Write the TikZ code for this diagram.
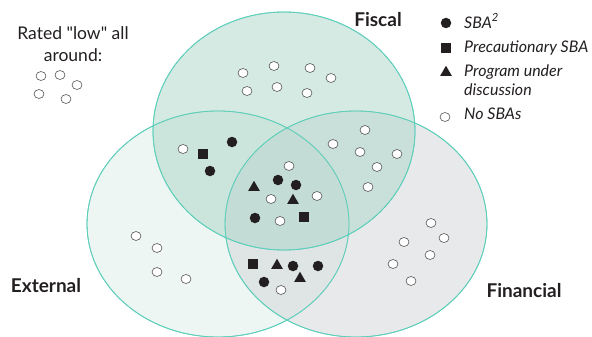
\documentclass[tikz,border=0pt]{standalone}
\usepackage{fontspec}
\setmainfont{Lato}[Ligatures=TeXOff]
\usetikzlibrary{shapes.geometric}
\definecolor{rim}{RGB}{94,207,186}
\definecolor{fisc}{RGB}{171,213,199}
\definecolor{extc}{RGB}{219,237,231}
\definecolor{finc}{RGB}{209,211,216}
\definecolor{ink}{RGB}{35,31,32}
\tikzset{
  blob/.style={draw=rim, line width=0.8pt, fill opacity=0.5},
  openm/.style={ellipse, draw=black!65, line width=0.6pt, fill=white, minimum width=10pt, minimum height=9pt, inner sep=0pt},
  fillm/.style={circle, fill=ink, minimum size=10.5pt, inner sep=0pt},
  sqm/.style={rectangle, fill=ink, minimum size=10pt, inner sep=0pt},
  trim/.style={regular polygon, regular polygon sides=3, fill=ink, minimum size=13.5pt, inner sep=0pt, yshift=1.5pt},
  lbl/.style={font=\fontsize{19}{22}\selectfont\bfseries, text=ink, inner sep=0pt},
  leg/.style={font=\fontsize{16}{19}\selectfont\itshape, text=ink, inner sep=0pt, anchor=west, align=left},
  txt/.style={font=\fontsize{17.5}{22}\selectfont, text=ink, inner sep=0pt, align=center}
}
\begin{document}
\begin{tikzpicture}[x=1pt,y=-1pt]
\useasboundingbox (0,0) rectangle (592,337);
% circles
\fill[blob, fill=extc] (218,224) ellipse [x radius=131, y radius=113];
\fill[blob, fill=finc] (356,224) ellipse [x radius=131, y radius=113];
\fill[blob, fill=fisc] (284,131) ellipse [x radius=131, y radius=119];
\draw[draw=rim, line width=0.8pt] (218,224) ellipse [x radius=131, y radius=113];
\draw[draw=rim, line width=0.8pt] (356,224) ellipse [x radius=131, y radius=113];
\draw[draw=rim, line width=0.8pt] (284,131) ellipse [x radius=131, y radius=119];
% labels
\node[txt] (rated) at (73,44) {Rated "low" all\\around:};
\node[lbl] (fiscal) at (378,20) {Fiscal};
\node[lbl] (external) at (46,286) {External};
\node[lbl] (financial) at (524,291) {Financial};
% legend
\node[fillm] (lg1) at (446,23) {};
\node[leg] (lt1) at (464,21) {SBA\textsuperscript{2}};
\node[sqm] (lg2) at (446,48) {};
\node[leg] (lt2) at (464,48) {Precautionary SBA};
\node[trim] (lg3) at (446,74) {};
\node[leg] (lt3) at (464,80.5) {Program under\\discussion};
\node[openm] (lg4) at (445,117) {};
\node[leg] (lt4) at (464,114) {No SBAs};
% open markers
\foreach \x/\y [count=\i] in {41/76,60/75,77/85,39/94,66/99,
  243/73,274/66,310/68,331/78,247/91,277/87,307/93,
  183/149,289/166,271/199,317/196,280/221,281/290,
  365/130,333/144,360/152,397/154,377/167,368/187,
  136/236,157/248,157/272,186/279,
  431/223,444/238,404/242,430/255,393/264,411/281}
  \node[openm] (o\i) at (\x,\y) {};
% filled circles
\foreach \x/\y [count=\i] in {232/142,210/171,278/180,296/185,255/218,293/266,318/266,264/282}
  \node[fillm] (f\i) at (\x,\y) {};
% squares
\foreach \x/\y [count=\i] in {203/154,304/217,253/264}
  \node[sqm] (s\i) at (\x,\y) {};
% triangles
\foreach \x/\y [count=\i] in {254/189,293/202,277/267,300/280}
  \node[trim] (t\i) at (\x,\y) {};
\end{tikzpicture}
\end{document}
